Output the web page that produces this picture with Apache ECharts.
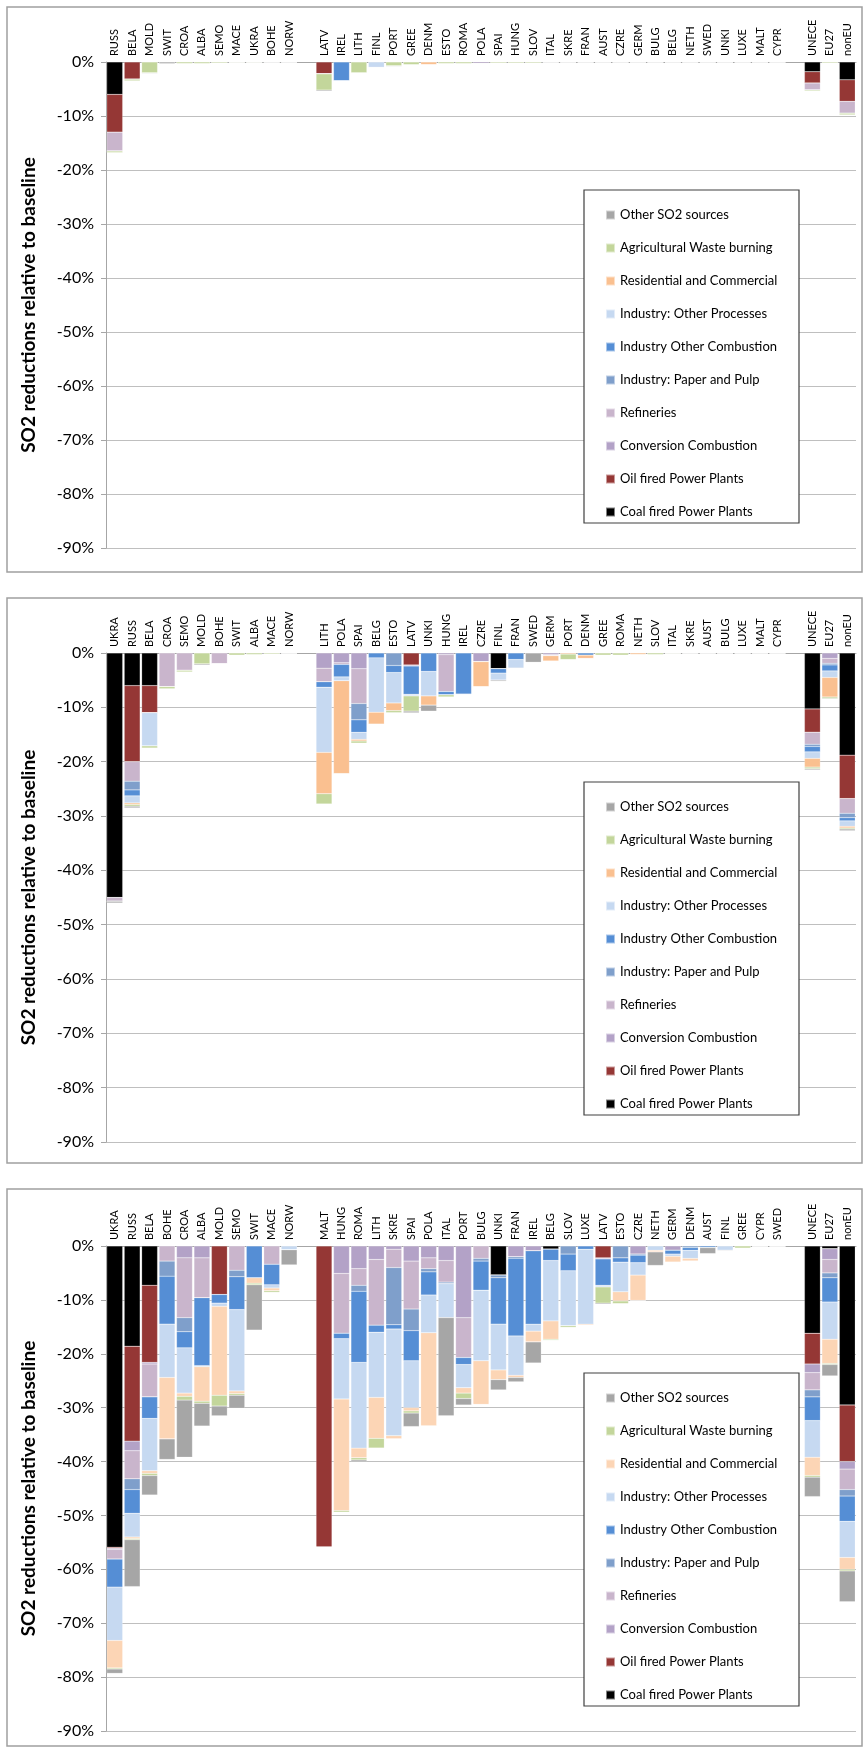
<!DOCTYPE html>
<html><head><meta charset="utf-8">
<script src="https://cdn.jsdelivr.net/npm/echarts@6/dist/echarts.min.js"></script>
<style>html,body{margin:0;padding:0;background:#fff}#c{width:864px;height:1749px}</style>
</head><body><div id="c"></div>
<script>
const sources = ['Coal fired Power Plants','Oil fired Power Plants','Conversion Combustion','Refineries','Industry: Paper and Pulp','Industry Other Combustion','Industry: Other Processes','Residential and Commercial','Agricultural Waste burning','Other SO2 sources'];
const yTicks = [0,-10,-20,-30,-40,-50,-60,-70,-80,-90];

const cats1 = ['RUSS','BELA','MOLD','SWIT','CROA','ALBA','SEMO','MACE','UKRA','BOHE','NORW','','LATV','IREL','LITH','FINL','PORT','GREE','DENM','ESTO','ROMA','POLA','SPAI','HUNG','SLOV','ITAL','SKRE','FRAN','AUST','CZRE','GERM','BULG','BELG','NETH','SWED','UNKI','LUXE','MALT','CYPR','','UNECE','EU27','nonEU'];
const p1_coal   = [6,0,0,0,0,0,0,0,0,0,0, null, 0,0,0,0,0,0,0,0,0,0,0,0,0,0,0,0,0,0,0,0,0,0,0,0,0,0,0, null, 1.8,0,3.3];
const p1_oil    = [7,3.2,0,0,0,0,0,0,0,0,0, null, 2.2,0,0,0,0,0,0,0,0,0,0,0,0,0,0,0,0,0,0,0,0,0,0,0,0,0,0, null, 2.1,0,4];
const p1_conv   = [0,0,0,0,0,0,0,0,0,0,0, null, 0,0,0,0,0,0,0,0,0,0.3,0,0,0,0,0,0,0,0,0,0,0,0,0,0,0,0,0, null, 0,0,0];
const p1_refin  = [3.5,0,0,0,0,0,0,0,0,0,0, null, 0,0,0,0,0,0,0,0,0,0,0,0,0,0,0,0,0,0,0,0,0,0,0,0,0,0,0, null, 1.3,0,2.2];
const p1_paper  = [0,0,0,0,0,0,0,0,0,0,0, null, 0,0,0,0,0,0,0,0,0,0,0,0,0,0,0,0,0,0,0,0,0,0,0,0,0,0,0, null, 0,0,0];
const p1_indCmb = [0,0,0,0,0,0,0,0,0,0,0, null, 0,3.5,0,0,0,0,0,0,0,0,0,0,0,0,0,0,0,0,0,0,0,0,0,0,0,0,0, null, 0,0,0];
const p1_indPrc = [0,0,0,0,0,0,0,0,0,0,0, null, 0,0,0,1,0,0,0,0,0,0,0,0,0,0,0,0,0,0,0,0,0,0,0,0,0,0,0, null, 0,0,0];
const p1_resid  = [0,0,0,0,0,0,0,0,0,0,0, null, 0,0,0,0,0,0,0.5,0,0,0,0,0,0,0,0,0,0,0,0,0,0,0,0,0,0,0,0, null, 0,0,0];
const p1_agri   = [0.3,0.3,2,0,0.3,0.3,0.2,0.1,0.1,0,0, null, 3,0,2,0,0.7,0.5,0,0.3,0.3,0,0.2,0.2,0.2,0,0,0,0,0,0,0,0,0,0,0,0,0,0, null, 0.2,0.2,0.3];
const p1_other  = [0,0,0.1,0.3,0,0,0,0,0,0,0, null, 0.2,0,0,0,0.1,0,0,0,0,0,0,0,0,0,0,0,0,0,0,0,0,0,0,0,0,0,0, null, 0,0,0];

const cats2 = ['UKRA','RUSS','BELA','CROA','SEMO','MOLD','BOHE','SWIT','ALBA','MACE','NORW','','LITH','POLA','SPAI','BELG','ESTO','LATV','UNKI','HUNG','IREL','CZRE','FINL','FRAN','SWED','GERM','PORT','DENM','GREE','ROMA','NETH','SLOV','ITAL','SKRE','AUST','BULG','LUXE','MALT','CYPR','','UNECE','EU27','nonEU'];
const p2_coal   = [45,6,6,0,0,0,0,0,0,0,0, null, 0,0,0,0,0,0,0,0,0,0,2.9,0,0,0,0,0,0,0,0,0,0,0,0,0,0,0,0, null, 10.3,0,18.8];
const p2_oil    = [0,14,5,0,0,0,0,0,0,0,0, null, 0,0,0,0,0,2.2,0,0,0,0,0,0,0,0,0,0,0,0,0,0,0,0,0,0,0,0,0, null, 4.3,0,8];
const p2_conv   = [0,0,0,0,0,0,0,0,0,0,0, null, 2.8,1.8,2.9,0,0,0.2,0,0.3,0,1.6,0,0,0,0.3,0,0,0,0,0,0,0,0,0,0,0,0,0, null, 0,1,0];
const p2_refin  = [0.7,3.6,0,6.2,3.2,0,2,0,0,0,0, null, 2.5,0.3,6.4,0,0,0,0,6.8,0,0,0,0,0,0.2,0,0,0,0,0,0,0,0,0,0,0,0,0, null, 2.2,0.9,2.7];
const p2_paper  = [0,1.6,0,0,0,0,0,0,0,0,0, null, 0,0,3,0,2.3,0,0,0,0,0,0,0,0,0,0,0,0,0,0,0,0,0,0,0,0,0,0, null, 0.4,0.3,0.8];
const p2_indCmb = [0,1.1,0,0,0,0,0,0,0,0,0, null, 1,2.3,2.3,0.9,1.3,5.2,3.4,0.6,7.6,0,0.8,1.2,0,0,0,0.4,0,0,0,0,0,0,0,0,0,0,0, null, 1,1.1,0.6];
const p2_indPrc = [0,1.3,6.1,0,0,0,0,0,0,0,0, null, 12,0.7,1.3,10,5.6,0.3,4.5,0,0,0,1.3,1.6,0,0,0,0,0,0,0,0,0,0,0,0,0,0,0, null, 1.2,1.2,1];
const p2_resid  = [0,0.3,0,0,0,0,0,0,0,0,0, null, 7.6,17.1,0.3,2.2,1.4,0,1.7,0,0,4.6,0,0,0,1,0.2,0.6,0,0,0.3,0,0,0,0,0,0,0,0, null, 1.6,3.6,0.3];
const p2_agri   = [0,0.3,0.4,0.4,0.3,2,0,0.4,0.3,0.2,0, null, 1.9,0,0.4,0,0.4,2.8,0,0.4,0,0,0,0,0,0,1,0,0.4,0.4,0,0.3,0.1,0,0,0,0,0,0, null, 0.3,0.3,0.2];
const p2_other  = [0.3,0.3,0,0,0,0.2,0,0,0,0,0, null, 0,0,0,0,0,0.3,1.1,0,0,0,0.2,0,1.7,0,0,0,0,0,0,0,0,0,0,0,0,0,0, null, 0.2,0.1,0.3];

const cats3 = ['UKRA','RUSS','BELA','BOHE','CROA','ALBA','MOLD','SEMO','SWIT','MACE','NORW','','MALT','HUNG','ROMA','LITH','SKRE','SPAI','POLA','ITAL','PORT','BULG','UNKI','FRAN','IREL','BELG','SLOV','LUXE','LATV','ESTO','CZRE','NETH','GERM','DENM','AUST','FINL','GREE','CYPR','SWED','','UNECE','EU27','nonEU'];
const p3_coal   = [55.9,18.6,7.3,0,0,0,0,0,0,0,0, null, 0,0,0,0,0,0,0,0,0,0,5.4,0,0,0.6,0,0,0,0,0,0,0,0,0,0,0,0,0, null, 16.2,0.5,29.5];
const p3_oil    = [0.2,17.6,14.3,0,0,0,9,0,0,0,0, null, 55.9,0,0,0,0,0,0,0,0,0,0,0,0,0,0,0,2.2,0,0,0,0,0,0,0,0,0,0, null, 5.7,0,10.5];
const p3_conv   = [0.2,1.8,0.3,0,2.2,2.2,0,0,0,0,0, null, 0,5.1,4.2,2.5,0.6,2.8,2.2,2.7,13.3,0,0,2,0.9,0,0,0,0.2,0,1.5,0,0.8,0,0,0,0,0,0, null, 1.6,2,1.4];
const p3_refin  = [1.8,5.2,6.1,2.8,11.1,7.4,0,4.5,0,3.4,0, null, 0,11.1,3.1,12.2,3.4,8.9,2,4,7.4,2.3,0,0,0,0,0,0,0,0,0,0,0,0,0,0,0,0,0, null, 3.2,2.5,3.8];
const p3_paper  = [0,2,0,2.8,2.6,0,0,1.2,0,0,0, null, 0,0,1.1,0,10.6,4,0.6,0.3,0,0.5,0.5,0.3,0,0,1.5,0,0,2.2,0.2,0,0,0.3,0,0,0,0,0, null, 1.3,0.9,1.2];
const p3_indCmb = [5.2,4.4,4,8.9,3,12.6,1.6,6.1,5.9,3.8,0, null, 0,1,13.2,1.3,0.8,5.6,4.3,0,1.3,5.4,8.6,14.4,13.6,2.1,3.1,0.6,4.9,0.8,1.4,0,0.7,0.5,0.3,0,0,0,0, null, 4.4,4.5,4.7];
const p3_indPrc = [9.9,4.4,9.7,9.9,8.4,0.2,0.6,15.1,0,0.6,0.7, null, 0,11.2,15.9,12.1,19.8,8.7,7,6.3,4.3,13.1,8.5,7.3,1.3,11.2,10.2,13.9,0.3,5.5,2.3,0.8,0.4,1.5,0,0.8,0,0,0, null, 6.8,6.9,6.7];
const p3_resid  = [5.1,0.3,0.5,11.4,0.6,6.4,16.5,0.5,1,0.5,0, null, 0,20.7,1.8,7.6,0.6,0.6,17.3,0,1,8.1,1.8,0.4,2,3.4,0,0.2,0,1.7,4.7,0.3,1.1,0.5,0,0,0,0,0, null, 3.4,4.5,2.2];
const p3_agri   = [0.2,0.2,0.4,0,0.7,0.4,2,0.3,0.3,0.3,0, null, 0,0.3,0.4,1.8,0,0.4,0,0,1,0,0,0,0,0.2,0.3,0,3,0.5,0,0,0,0,0,0,0.4,0,0, null, 0.3,0.2,0.3];
const p3_other  = [0.8,8.7,3.6,3.8,10.6,4.2,1.8,2.4,8.4,0,2.8, null, 0,0,0.3,0,0,2.5,0,18.2,1.2,0,1.9,0.8,3.9,0,0,0,0.2,0,0,2.5,0,0,1.1,0.1,0,0,0, null, 3.6,2.1,5.7];

const colors12 = ['#000000','#953735','#B3A2C7','#C9B5CC','#7F9FCB','#558ED5','#C6D9F1','#FAC090','#C3D69B','#A6A6A6'];
const colors3  = ['#000000','#953735','#B3A2C7','#C9B5CC','#7F9FCB','#558ED5','#C6D9F1','#FCD5B5','#C3D69B','#A6A6A6'];

const panels = [
  {cats: cats1, data: [p1_coal,p1_oil,p1_conv,p1_refin,p1_paper,p1_indCmb,p1_indPrc,p1_resid,p1_agri,p1_other], colors: colors12, frame:[7,7,855,565], top:62, h:486, legTop:190},
  {cats: cats2, data: [p2_coal,p2_oil,p2_conv,p2_refin,p2_paper,p2_indCmb,p2_indPrc,p2_resid,p2_agri,p2_other], colors: colors12, frame:[7,598,855,565], top:653, h:489, legTop:782},
  {cats: cats3, data: [p3_coal,p3_oil,p3_conv,p3_refin,p3_paper,p3_indCmb,p3_indPrc,p3_resid,p3_agri,p3_other], colors: colors3, frame:[7,1189,855,557], top:1246, h:485, legTop:1373}
];

const FONT = 'Lato';
const grid=[], xAxis=[], yAxis=[], series=[], legend=[], graphic=[];
panels.forEach((p,i)=>{
  graphic.push({type:'rect', shape:{x:p.frame[0],y:p.frame[1],width:p.frame[2],height:p.frame[3]}, style:{fill:'none',stroke:'#A0A0A0',lineWidth:1.5}, z:-1});
  graphic.push({type:'rect', shape:{x:584,y:p.legTop,width:215,height:333}, style:{fill:'#fff',stroke:'#404040',lineWidth:1.2}, z:5});
  grid.push({left:106, right:8, top:p.top, height:p.h});
  xAxis.push({type:'category', gridIndex:i, position:'top', data:p.cats,
    axisLine:{lineStyle:{color:'#A6A6A6'}}, axisTick:{inside:true,length:4,lineStyle:{color:'#A6A6A6'}},
    axisLabel:{rotate:90, interval:0, fontSize:11, color:'#000', fontFamily:FONT, margin:6}});
  yAxis.push({type:'value', gridIndex:i, min:yTicks[yTicks.length-1], max:yTicks[0], interval:10,
    name:'SO2 reductions relative to baseline', nameLocation:'middle', nameGap:68, nameRotate:90,
    nameTextStyle:{fontSize:19, fontWeight:'bold', color:'#000', fontFamily:FONT},
    axisLine:{show:true, lineStyle:{color:'#A6A6A6'}}, axisTick:{show:true,length:5,lineStyle:{color:'#A6A6A6'}},
    splitLine:{lineStyle:{color:'#BFBFBF', width:1.2}},
    axisLabel:{formatter:v=>v+'%', fontSize:16, color:'#000', fontFamily:FONT, margin:12}});
  sources.forEach((s,k)=>{
    series.push({name:s, type:'bar', stack:'p'+i, xAxisIndex:i, yAxisIndex:i, barCategoryGap:'9%',
      itemStyle:{color:p.colors[k], borderColor:'rgba(255,255,255,0.5)', borderWidth:0.4},
      data:p.data[k].map(v=> v===null? null : -v), animation:false, z:2});
  });
  legend.push({orient:'vertical', left:600, top:p.legTop+13, itemWidth:9, itemHeight:9, itemGap:19, icon:'rect', z:10,
    selectedMode:false,
    textStyle:{fontSize:13, color:'#000', fontFamily:FONT, lineHeight:14},
    data: sources.map((s,k)=>({name:s, itemStyle:{color:p.colors[k]}})).reverse()});
});

const chart = echarts.init(document.getElementById('c'), null, {renderer:'canvas'});
chart.setOption({animation:false, grid, xAxis, yAxis, series, legend, graphic});
</script></body></html>
